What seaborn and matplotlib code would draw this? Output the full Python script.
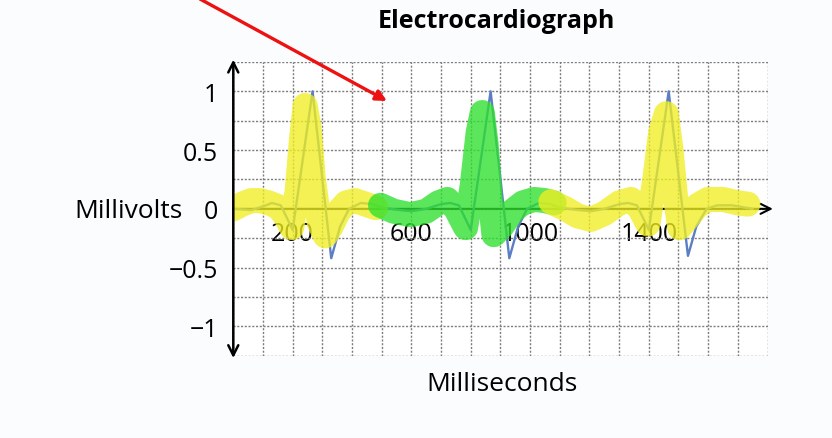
import matplotlib
matplotlib.use("Agg")
import matplotlib.pyplot as plt
import seaborn as sns
import pandas as pd

# ECG trace (ms, mV)
ecg_ms = [0, 60, 100, 130, 160, 185, 200, 267, 330, 360, 390, 430, 470, 500,
          560, 600, 650, 700, 730, 760, 785, 800, 867, 930, 960, 990, 1030, 1070, 1100,
          1160, 1205, 1250, 1300, 1330, 1360, 1385, 1400, 1467, 1532, 1560, 1595, 1630, 1680, 1750]
ecg_mv = [0.0, -0.01, 0.02, 0.05, 0.03, -0.1, -0.18, 1.0, -0.42, -0.15, 0.0, 0.05, 0.04, 0.01,
          -0.01, -0.02, 0.0, 0.04, 0.05, 0.03, -0.1, -0.18, 1.0, -0.42, -0.15, 0.0, 0.05, 0.04, 0.01,
          -0.01, -0.02, 0.0, 0.04, 0.05, 0.03, -0.1, -0.18, 1.0, -0.40, -0.15, 0.0, 0.03, 0.03, 0.0]

# highlighter strokes drawn over the scan
yellow1_ms = [0, 30, 60, 90, 120, 150, 175, 197, 215, 230, 242, 255, 270, 290, 310, 330, 355, 380, 410, 445, 480]
yellow1_mv = [0.0, 0.04, 0.07, 0.07, 0.05, 0.02, -0.06, -0.16, 0.15, 0.6, 0.88, 0.7, 0.25, -0.12, -0.23, -0.15, -0.02, 0.05, 0.07, 0.04, 0.01]
green_ms = [496, 540, 597, 650, 690, 721, 750, 783, 805, 825, 839, 852, 865, 878, 905, 940, 975, 1014, 1050, 1081]
green_mv = [0.03, -0.02, -0.05, -0.02, 0.05, 0.08, 0.0, -0.16, 0.2, 0.65, 0.82, 0.55, 0.1, -0.22, -0.15, -0.02, 0.05, 0.08, 0.07, 0.05]
yellow2_ms = [1070, 1120, 1160, 1205, 1250, 1300, 1340, 1370, 1397, 1420, 1440, 1459, 1475, 1490, 1504, 1530, 1565, 1599, 1650, 1701, 1734]
yellow2_mv = [0.06, 0.0, -0.06, -0.09, -0.04, 0.05, 0.08, 0.0, -0.13, 0.25, 0.65, 0.81, 0.5, 0.1, -0.16, -0.08, 0.03, 0.08, 0.08, 0.05, 0.04]

y_ticks = [1, 0.5, 0, -0.5, -1]
y_labels = ["1", "0.5", "0", "\u22120.5", "\u22121"]
x_ticks = [200, 600, 1000, 1400]

sns.set_style("white")
plt.rcParams['font.family'] = ['Open Sans', 'DejaVu Sans']
plt.rcParams['text.color'] = 'black'

fig = plt.figure(figsize=(8.32, 4.39), dpi=100, facecolor="#fbfcfd")
ax = fig.add_axes([0.2804, 0.1875, 0.9225 - 0.2804, 0.8565 - 0.1875])
ax.set_facecolor("#ffffff")

ax.set_xlim(0, 1800)
ax.set_ylim(-1.25, 1.25)

# dotted graph-paper grid
for gx in range(0, 1801, 100):
    ax.axvline(gx, color="#7d7d7d", lw=1.0, ls=(0, (1.5, 1.2)), zorder=1)
for k in range(-5, 6):
    ax.axhline(k * 0.25, color="#7d7d7d", lw=1.0, ls=(0, (1.5, 1.2)), zorder=1)

ecg = pd.DataFrame({"ms": ecg_ms, "mv": ecg_mv})
sns.lineplot(data=ecg, x="ms", y="mv", sort=False, color="#5b7ec4", lw=1.7, ax=ax, zorder=3)

for xs, ys, col in [(yellow1_ms, yellow1_mv, "#f0ee22"),
                    (green_ms, green_mv, "#2ee02e"),
                    (yellow2_ms, yellow2_mv, "#f0ee22")]:
    d = pd.DataFrame({"ms": xs, "mv": ys})
    sns.lineplot(data=d, x="ms", y="mv", sort=False, color=col, lw=18, alpha=0.78,
                 solid_capstyle="round", solid_joinstyle="round", ax=ax, zorder=4)

for s in ax.spines.values():
    s.set_visible(False)
ax.spines['left'].set_position(('data', 0))
ax.spines['bottom'].set_position(('data', 0))

# axes drawn as arrows
ax.annotate("", xy=(0, 1.27), xytext=(0, -1.27), xycoords="data",
            arrowprops=dict(arrowstyle="<->", color="black", lw=1.8, mutation_scale=18,
                            shrinkA=0, shrinkB=0), annotation_clip=False, zorder=5)
ax.annotate("", xy=(1818, 0), xytext=(0, 0), xycoords="data",
            arrowprops=dict(arrowstyle="->", color="black", lw=1.5, mutation_scale=18,
                            shrinkA=0, shrinkB=0), annotation_clip=False, zorder=2)

ax.set_yticks(y_ticks)
ax.set_yticklabels(y_labels)
ax.set_xticks(x_ticks)
ax.set_xticklabels([str(v) for v in x_ticks])
ax.tick_params(axis="both", direction="inout", length=12, width=1.2, colors="black",
               labelsize=18, pad=5)
ax.tick_params(axis="x", pad=3)
ax.set_xlabel("")
ax.set_ylabel("")

fig.text(183 / 832, 1 - 211 / 439, "Millivolts", ha="right", va="center", fontsize=19)
fig.text(502 / 832, 1 - 385 / 439, "Milliseconds", ha="center", va="center", fontsize=19)
fig.text(496 / 832, 1 - 22 / 439, "Electrocardiograph", ha="center", va="center",
         fontsize=18, fontweight="bold")

# red pen arrow on the scan
ax.annotate("", xy=(387 / 832, 1 - 102 / 439), xytext=(200 / 832, 1.0),
            xycoords="figure fraction", textcoords="figure fraction",
            arrowprops=dict(arrowstyle="-|>", color="#ee1111", lw=2.4, mutation_scale=16,
                            shrinkA=0, shrinkB=0), annotation_clip=False, zorder=6)

fig.savefig("out.png", dpi=100, facecolor=fig.get_facecolor())
